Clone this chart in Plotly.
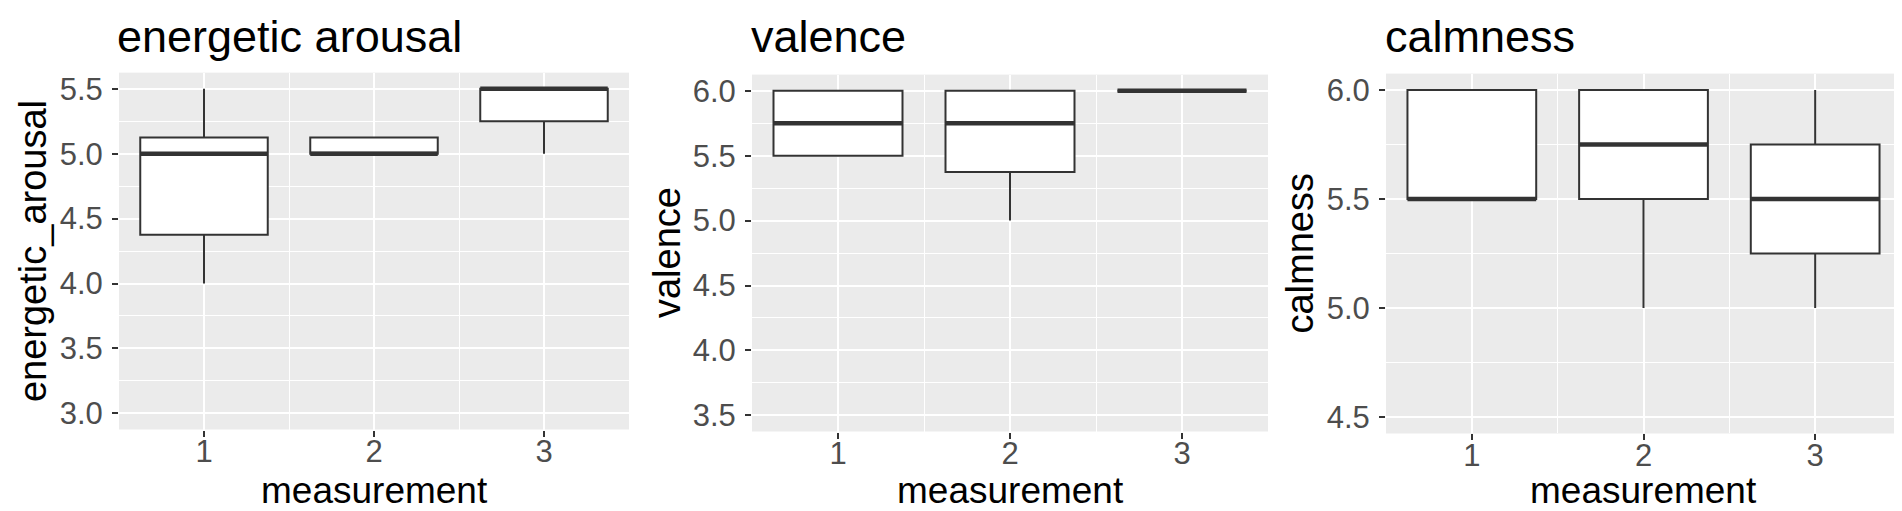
import plotly.graph_objects as go

# ---- data ----
measurement = [1, 2, 3]
x_tick_labels = ["1", "2", "3"]

ea_lower = [4.0, 5.0, 5.0]
ea_q1 = [4.375, 5.0, 5.25]
ea_median = [5.0, 5.0, 5.5]
ea_q3 = [5.125, 5.125, 5.5]
ea_upper = [5.5, 5.125, 5.5]
ea_ticks = [3.0, 3.5, 4.0, 4.5, 5.0, 5.5]

val_lower = [5.5, 5.0, 6.0]
val_q1 = [5.5, 5.375, 6.0]
val_median = [5.75, 5.75, 6.0]
val_q3 = [6.0, 6.0, 6.0]
val_upper = [6.0, 6.0, 6.0]
val_ticks = [3.5, 4.0, 4.5, 5.0, 5.5, 6.0]

calm_lower = [5.5, 5.0, 5.0]
calm_q1 = [5.5, 5.5, 5.25]
calm_median = [5.5, 5.75, 5.5]
calm_q3 = [6.0, 6.0, 5.75]
calm_upper = [6.0, 6.0, 6.0]
calm_ticks = [4.5, 5.0, 5.5, 6.0]

titles = ["energetic arousal", "valence", "calmness"]
y_titles = ["energetic_arousal", "valence", "calmness"]
x_title = "measurement"

# ---- styling / layout ----
W, H = 1902, 511
FONT = "Liberation Sans, Arial, sans-serif"
BOX_W = 0.75
LINE = "#333333"

panels = [
    dict(stats=(ea_lower, ea_q1, ea_median, ea_q3, ea_upper), ticks=ea_ticks,
         px=(111, 621), py=(64, 423), title_x=107, ytitle_x=25),
    dict(stats=(val_lower, val_q1, val_median, val_q3, val_upper), ticks=val_ticks,
         px=(744, 1260), py=(66, 425), title_x=741, ytitle_x=659),
    dict(stats=(calm_lower, calm_q1, calm_median, calm_q3, calm_upper), ticks=calm_ticks,
         px=(1378, 1893), py=(65, 427), title_x=1375, ytitle_x=1292),
]

fig = go.Figure()
layout = dict(width=W, height=H, margin=dict(l=0, r=0, t=0, b=0),
              paper_bgcolor="white", plot_bgcolor="#EBEBEB", showlegend=False,
              font=dict(family=FONT))
shapes = []
annotations = []

for k, p in enumerate(panels):
    sfx = "" if k == 0 else str(k + 1)
    xa, ya = "x" + sfx, "y" + sfx
    lo, q1, med, q3, hi = p["stats"]
    fig.add_trace(go.Box(
        x=measurement, lowerfence=lo, q1=q1, median=med, q3=q3, upperfence=hi,
        width=BOX_W, fillcolor="white", line=dict(color=LINE, width=2),
        whiskerwidth=0, boxpoints=False, xaxis=xa, yaxis=ya, hoverinfo="skip"))
    # thicker median line (ggplot style)
    for m, md in zip(measurement, med):
        shapes.append(dict(type="line", xref=xa, yref=ya, x0=m - BOX_W / 2, x1=m + BOX_W / 2,
                           y0=md, y1=md, line=dict(color=LINE, width=4.5), layer="above"))

    ticks = p["ticks"]
    span = ticks[-1] - ticks[0]
    yr = [ticks[0] - 0.05 * span, ticks[-1] + 0.05 * span]
    x0, x1 = p["px"]
    y0, y1 = p["py"]
    layout["xaxis" + sfx] = dict(
        domain=[x0 / W, x1 / W], anchor=ya, range=[0.5, 3.5],
        tickvals=measurement, ticktext=x_tick_labels,
        showgrid=True, gridcolor="white", gridwidth=2, zeroline=False,
        ticks="outside", ticklen=6, tickwidth=1.5, tickcolor=LINE,
        ticklabelstandoff=-12,
        tickfont=dict(size=31, color="#4D4D4D", family=FONT),
        minor=dict(tick0=0.5, dtick=1, showgrid=True, gridcolor="white", gridwidth=1),
        showline=False, fixedrange=True)
    layout["yaxis" + sfx] = dict(
        domain=[(H - y1) / H, (H - y0) / H], anchor=xa, range=yr,
        tickvals=ticks, ticktext=[f"{t:.1f}" for t in ticks],
        showgrid=True, gridcolor="white", gridwidth=2, zeroline=False,
        ticks="outside", ticklen=6, tickwidth=1.5, tickcolor=LINE,
        ticklabelstandoff=3,
        tickfont=dict(size=31, color="#4D4D4D", family=FONT),
        minor=dict(tick0=0, dtick=0.25, showgrid=True, gridcolor="white", gridwidth=1),
        showline=False, fixedrange=True)

    # panel title
    annotations.append(dict(text=titles[k], xref="paper", yref="paper",
                            x=p["title_x"] / W, y=1 - 28 / H, xanchor="left", yanchor="middle",
                            showarrow=False, font=dict(size=45, color="black", family=FONT)))
    # y title
    annotations.append(dict(text=y_titles[k], xref="paper", yref="paper", textangle=-90,
                            x=p["ytitle_x"] / W, y=1 - ((y0 + y1) / 2) / H,
                            xanchor="center", yanchor="middle",
                            showarrow=False, font=dict(size=38, color="black", family=FONT)))
    # x title
    annotations.append(dict(text=x_title, xref="paper", yref="paper",
                            x=((x0 + x1) / 2) / W, y=1 - 484 / H,
                            xanchor="center", yanchor="middle",
                            showarrow=False, font=dict(size=37, color="black", family=FONT)))

layout["shapes"] = shapes
layout["annotations"] = annotations
fig.update_layout(**layout)
fig.write_html("out.html")
